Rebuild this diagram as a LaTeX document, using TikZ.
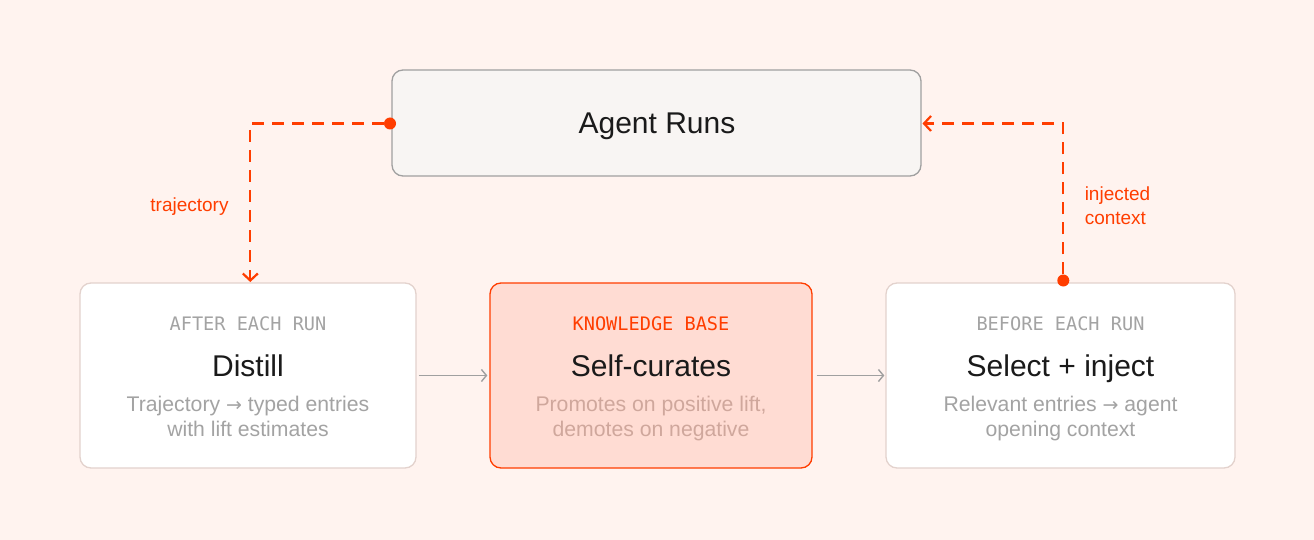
\documentclass[tikz,border=0pt]{standalone}
\usepackage{fontspec}
\setmainfont{Liberation Sans}
\setmonofont{DejaVu Sans Mono}
\newfontfamily\arrowfont{DejaVu Sans}
\usetikzlibrary{arrows.meta}

\definecolor{pagebg}{HTML}{FFF3EF}
\definecolor{runfill}{HTML}{F8F5F3}
\definecolor{runline}{HTML}{A0A0A0}
\definecolor{cardline}{HTML}{E3D2CD}
\definecolor{kbfill}{HTML}{FFDCD3}
\definecolor{accent}{HTML}{FF3D00}
\definecolor{ink}{HTML}{1A1A1A}
\definecolor{muted}{HTML}{A3A3A3}
\definecolor{kbmuted}{HTML}{CFA79C}

\newcommand{\toglyph}{{\arrowfont\fontsize{19}{25}\selectfont →}}

\begin{document}
\begin{tikzpicture}[
		x=1pt, y=-1pt,
		card/.style={draw=cardline, fill=white, line width=1.3pt, rounded corners=11pt, minimum height=185pt, inner sep=0},
		kbcard/.style={card, draw=accent, fill=kbfill},
		tagtext/.style={anchor=base, inner sep=0, text=muted, font=\ttfamily\fontsize{18.6}{22}\selectfont},
		titletext/.style={anchor=base, inner sep=0, text=ink, font=\fontsize{30}{36}\selectfont},
		subtext/.style={anchor=base, inner sep=0, align=center, text=muted, font=\fontsize{21.2}{25.5}\selectfont},
		edgetext/.style={anchor=base, inner sep=0, text=accent, font=\fontsize{19}{24.5}\selectfont},
		dot/.style={circle, fill=accent, minimum size=12pt, inner sep=0},
		flow/.style={draw=accent, line width=2.2pt, dash pattern=on 12pt off 8pt, -{Straight Barb[length=7pt,width=15pt,line width=2.2pt]}},
		step arrow/.style={draw=runline, line width=1.4pt, -{Straight Barb[length=5pt,width=12pt,line width=1.4pt]}}]

	\path[use as bounding box, fill=pagebg] (0,0) rectangle (1314,540);

	\node[card, draw=runline, fill=runfill, minimum width=529pt, minimum height=106pt](runs) at (656.5,123) {};
	\node[card, minimum width=336pt](distill) at (248,375.5) {};
	\node[kbcard, minimum width=322pt](curates) at (651,375.5) {};
	\node[card, minimum width=349pt](select) at (1060.5,375.5) {};

	\node[titletext](runstitle) at (657,134) {Agent Runs};

	\node[tagtext](distilltag) at (248,330) {AFTER EACH RUN};
	\node[titletext](distilltitle) at (248,376) {Distill};
	\node[subtext](distillsub) at (248,436.5) {Trajectory \toglyph{} typed entries\\with lift estimates};

	\node[tagtext, text=accent](curatestag) at (651,330) {KNOWLEDGE BASE};
	\node[titletext](curatestitle) at (651,376) {Self-curates};
	\node[subtext, text=kbmuted](curatessub) at (651,436.5) {Promotes on positive lift,\\demotes on negative};

	\node[tagtext](selecttag) at (1060.5,330) {BEFORE EACH RUN};
	\node[titletext](selecttitle) at (1060.5,376) {Select + inject};
	\node[subtext](selectsub) at (1060.5,436.5) {Relevant entries \toglyph{} agent\\opening context};

	\node[dot](rundot) at (390,123.5) {};
	\node[dot](selectdot) at (1063.3,280.5) {};
	\coordinate (distillin) at (250.3,282);
	\coordinate (runsin) at (922.5,123.5);

	\draw[flow] (rundot) -| (distillin);
	\draw[flow] (selectdot) |- (runsin);

	\draw[step arrow, shorten <=2pt, shorten >=2pt] (distill) -- (curates);
	\draw[step arrow, shorten <=4pt, shorten >=1pt] (curates) -- (select);

	\node[edgetext](trajectorylabel) at (189.5,211.5) {trajectory};
	\node[edgetext, align=left](injectedlabel) at (1117.5,224.5) {injected\\context};
\end{tikzpicture}
\end{document}
